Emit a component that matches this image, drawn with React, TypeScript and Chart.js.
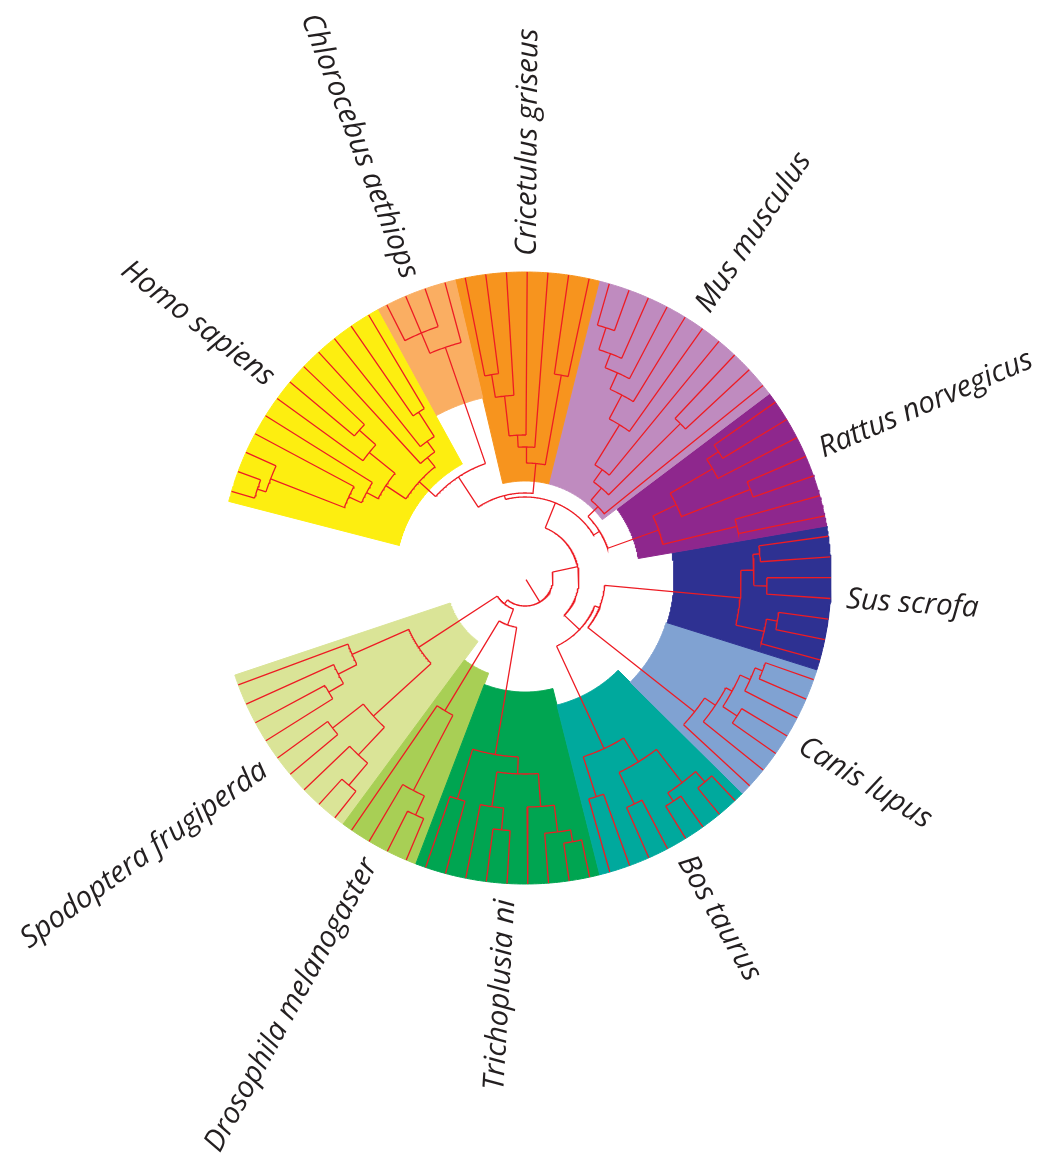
import React, { useEffect, useRef } from "react";
import { Chart, registerables } from "chart.js";

Chart.register(...registerables);

// Clades, listed clockwise starting from the left edge of the ring.
const CLADE_NAMES = [
  "Homo sapiens",
  "Chlorocebus aethiops",
  "Cricetulus griseus",
  "Mus musculus",
  "Rattus norvegicus",
  "Sus scrofa",
  "Canis lupus",
  "Bos taurus",
  "Trichoplusia ni",
  "Drosophila melanogaster",
  "Spodoptera frugiperda",
];

// Subtrees per clade in a Newick-like form: "*" is a sequence (leaf),
// the number after ")" is the radial height of that internal node.
const CLADE_TREES = [
  "((((((*,*)282,*)273,*)194,*)180,(*,(*,*)222)200)167,(*,(*,(*,*)197)168)155)143",
  "((*,*,*)266,*)244",
  "(((((*,*)206,*)183,*)143,*)131,(*,*)206)115",
  "((((((((*,*)263,*)240,*)225,*)207,*)180,*)133,(*,*)219)118,*)102",
  "((((*,*)231,*)217,(*,*)242)168,(*,*)218)142",
  "(((*,*)236,(*,*)242)229,((*,*)256,*)245)216",
  "(((((*,*)255,*)247,(*,*)253)236,*)229,*)216",
  "((((*,*)272,(*,*)268)258,(*,*)251)216,(*,*)230)188",
  "(((((*,*)268,*)256,*)229,((*,*)253,*)231)196,(*,*)231)179",
  "(((*,*)261,*)240,*)155",
  "((((*,*)272,*)243,(*,*)244)205,(((*,*)227,*)210,*)189)127",
];

// How the clades join towards the root; #n stands for CLADE_TREES[n].
const BACKBONE =
  "(((((#0,#1)121,#2)85,(#3,#4)88)81,((#5,#6)80,#7)75)54,((#8,#9)50,#10)33)28";

// Inner radius of each clade's coloured band.
const BAND_INNER = [130, 185, 97, 97, 115, 149, 148, 131, 114, 102, 79];

const BAND_COLORS = [
  "#fdee10",
  "#faae62",
  "#f7941e",
  "#bf8bbf",
  "#8e278d",
  "#2e3192",
  "#80a2d2",
  "#00a99d",
  "#00a551",
  "#a8cf55",
  "#dae497",
];

// Geometry of the ring (chart units equal canvas pixels).
const W = 1049;
const H = 1154;
const CX = 525;
const CY = 578;
const OUTER_R = 306;
const LABEL_R = 322;
const START_ANGLE = 284.5; // degrees, clockwise from 12 o'clock
const SPAN_ANGLE = 327;
const LINE_COLOR = "#ed1c24";
const TEXT_COLOR = "#231f20";
const LABEL_FONT = 'italic 29.5px "Open Sans", "DejaVu Sans", sans-serif';

type TreeNode = { r: number; kids: TreeNode[]; a: number };
type Pt = { x: number; y: number };

function parseTree(src: string): TreeNode {
  const s = src.replace(/\s+/g, "");
  let i = 0;
  const read = (): TreeNode => {
    if (s[i] === "(") {
      i++;
      const kids: TreeNode[] = [read()];
      while (s[i] === ",") {
        i++;
        kids.push(read());
      }
      i++; // ")"
      const m = /^[0-9.]+/.exec(s.slice(i));
      const r = m ? parseFloat(m[0]) : 0;
      i += m ? m[0].length : 0;
      return { r, kids, a: 0 };
    }
    i++; // "*"
    return { r: OUTER_R, kids: [], a: 0 };
  };
  return read();
}

function countLeaves(n: TreeNode): number {
  return n.kids.length ? n.kids.reduce((s, k) => s + countLeaves(k), 0) : 1;
}

function polar(r: number, deg: number): Pt {
  const t = (deg * Math.PI) / 180;
  return { x: r * Math.sin(t), y: r * Math.cos(t) };
}

function arc(r: number, a0: number, a1: number): Pt[] {
  const n = Math.max(2, Math.ceil(Math.abs(a1 - a0) / 0.5));
  const out: Pt[] = [];
  for (let k = 0; k <= n; k++) out.push(polar(r, a0 + ((a1 - a0) * k) / n));
  return out;
}

function buildChartData() {
  const cladeLeafCounts = CLADE_TREES.map((t) => countLeaves(parseTree(t)));
  const totalLeaves = cladeLeafCounts.reduce((a, b) => a + b, 0);
  const step = SPAN_ANGLE / totalLeaves;

  const full = BACKBONE.replace(/#(\d+)/g, (_, n) => CLADE_TREES[Number(n)]);
  const root = parseTree(full);

  let leafIndex = 0;
  const place = (n: TreeNode) => {
    if (!n.kids.length) {
      n.a = START_ANGLE + (leafIndex + 0.5) * step;
      leafIndex++;
      return;
    }
    n.kids.forEach(place);
    n.a = (n.kids[0].a + n.kids[n.kids.length - 1].a) / 2;
  };
  place(root);

  // Branches: one polyline list separated by gaps.
  const branchPts: Pt[] = [];
  const gap = () => branchPts.push({ x: NaN, y: NaN });
  const addLine = (pts: Pt[]) => {
    branchPts.push(...pts);
    gap();
  };
  addLine([polar(2, root.a), polar(root.r, root.a)]);
  const walk = (n: TreeNode) => {
    if (!n.kids.length) return;
    addLine(arc(n.r, n.kids[0].a, n.kids[n.kids.length - 1].a));
    for (const k of n.kids) {
      addLine([polar(n.r, k.a), polar(k.r, k.a)]);
      walk(k);
    }
  };
  walk(root);

  // Coloured bands, one per clade.
  const bands: { pts: Pt[]; a0: number; a1: number }[] = [];
  let cum = 0;
  cladeLeafCounts.forEach((cnt, i) => {
    const a0 = START_ANGLE + cum * step;
    const a1 = START_ANGLE + (cum + cnt) * step;
    cum += cnt;
    const pts = [...arc(OUTER_R, a0, a1), ...arc(BAND_INNER[i], a1, a0)];
    pts.push(pts[0]);
    bands.push({ pts, a0, a1 });
  });

  return { branchPts, bands };
}

export default function App() {
  const ref = useRef<HTMLCanvasElement>(null);

  useEffect(() => {
    const canvas = ref.current;
    if (!canvas) return;
    const { branchPts, bands } = buildChartData();

    const datasets: any[] = [
      {
        label: "branches",
        data: branchPts,
        showLine: true,
        spanGaps: false,
        borderColor: LINE_COLOR,
        borderWidth: 1.3,
        pointRadius: 0,
        fill: false,
        tension: 0,
        order: 0,
      },
      ...bands.map((b, i) => ({
        label: CLADE_NAMES[i],
        data: b.pts,
        showLine: true,
        borderColor: BAND_COLORS[i],
        backgroundColor: BAND_COLORS[i],
        borderWidth: 1,
        pointRadius: 0,
        fill: "shape",
        tension: 0,
        order: 1,
      })),
    ];

    const labelPlugin = {
      id: "cladeLabels",
      afterDatasetsDraw(chart: any) {
        const { ctx } = chart;
        const xs = chart.scales.x;
        const ys = chart.scales.y;
        ctx.save();
        ctx.font = LABEL_FONT;
        ctx.fillStyle = TEXT_COLOR;
        ctx.textBaseline = "middle";
        bands.forEach((b, i) => {
          const mid = ((((b.a0 + b.a1) / 2) % 360) + 360) % 360;
          const p = polar(LABEL_R, mid);
          const px = xs.getPixelForValue(p.x);
          const py = ys.getPixelForValue(p.y);
          const rightSide = mid < 180;
          const rot = ((rightSide ? mid - 90 : mid + 90) * Math.PI) / 180;
          ctx.save();
          ctx.translate(px, py);
          ctx.rotate(rot);
          ctx.textAlign = rightSide ? "left" : "right";
          ctx.fillText(CLADE_NAMES[i], 0, 0);
          ctx.restore();
        });
        ctx.restore();
      },
    };

    const chart = new Chart(canvas, {
      type: "scatter",
      data: { datasets },
      options: {
        responsive: false,
        maintainAspectRatio: false,
        animation: false,
        devicePixelRatio: 1,
        events: [],
        layout: { padding: 0 },
        plugins: {
          legend: { display: false },
          tooltip: { enabled: false },
        },
        scales: {
          x: { type: "linear", display: false, min: -CX, max: W - CX },
          y: { type: "linear", display: false, min: CY - H, max: CY },
        },
      },
      plugins: [labelPlugin],
    } as any);

    return () => chart.destroy();
  }, []);

  return (
    <div
      style={{
        position: "absolute",
        left: 0,
        top: 0,
        width: W,
        height: H,
        background: "#ffffff",
      }}
    >
      <canvas
        ref={ref}
        width={W}
        height={H}
        style={{ display: "block", width: W, height: H }}
      />
    </div>
  );
}
